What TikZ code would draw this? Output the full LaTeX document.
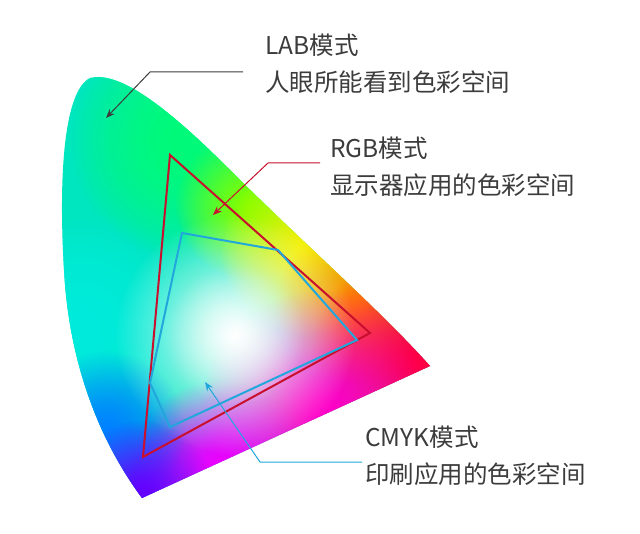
\documentclass[tikz,border=0pt]{standalone}
\usepackage{fontspec}
\setmainfont{Noto Sans CJK SC}
\usetikzlibrary{fadings,arrows.meta}
\tikzfading[name=blobfade, inner color=transparent!0, outer color=transparent!100]
\definecolor{rgbred}{RGB}{200,16,46}
\definecolor{cmykblue}{RGB}{34,167,220}
\definecolor{txt}{RGB}{60,60,60}
\tikzset{
  lbl/.style={anchor=west, text=txt, font=\fontsize{24.5}{28}\selectfont, inner sep=0},
  lead/.style={line width=1pt, -{Stealth[length=9pt,width=7pt]}},
  blob/.style={path fading=blobfade}
}
\begin{document}
\begin{tikzpicture}[x=1pt,y=-1pt]
\useasboundingbox (0,0) rectangle (640,534);
\begin{scope}
\clip (142,498) .. controls (110,455) and (70,380) .. (64,270)
  .. controls (58,170) and (65,90) .. (90,78)
  .. controls (120,70) and (170,110) .. (230,170)
  .. controls (300,240) and (380,310) .. (430,366) -- cycle;
\fill[color={rgb,255:red,0;green,230;blue,190}] (0,0) rectangle (640,534);
\foreach \k in {1,2}{
\fill[blob,color={rgb,255:red,0;green,235;blue,220}] (80,330) circle (120);
\fill[blob,color={rgb,255:red,0;green,250;blue,120}] (190,140) circle (120);
\fill[blob,color={rgb,255:red,130;green,255;blue,0}] (250,205) circle (75);
\fill[blob,color={rgb,255:red,245;green,240;blue,0}] (305,250) circle (85);
\fill[blob,color={rgb,255:red,255;green,140;blue,0}] (355,305) circle (80);
\fill[blob,color={rgb,255:red,255;green,0;blue,60}] (420,360) circle (110);
\fill[blob,color={rgb,255:red,255;green,0;blue,200}] (320,410) circle (120);
\fill[blob,color={rgb,255:red,235;green,0;blue,255}] (220,470) circle (90);
\fill[blob,color={rgb,255:red,0;green,130;blue,255}] (105,430) circle (80);
\fill[blob,color={rgb,255:red,100;green,0;blue,255}] (140,495) circle (75);
}
\fill[blob,white] (235,335) circle (120);
\fill[blob,white,opacity=0.6] (235,335) circle (70);
\end{scope}
\draw[rgbred, line width=2pt, line join=miter] (170,155) -- (370,333) -- (143,457) -- cycle;
\draw[cmykblue, line width=2pt] (182,233) -- (278,250) -- (357,340) -- (170,427) -- (150,383) -- cycle;

\node[lbl] (labt) at (265,45) {LAB模式};
\node[lbl] (labd) at (265,82) {人眼所能看到色彩空间};
\node[lbl] (rgbt) at (330,148) {RGB模式};
\node[lbl] (rgbd) at (330,185) {显示器应用的色彩空间};
\node[lbl] (cmyt) at (365,437) {CMYK模式};
\node[lbl] (cmyd) at (365,474) {印刷应用的色彩空间};

\coordinate (la) at (243,72); \coordinate (lb) at (150,72); \coordinate (lc) at (106,118);
\coordinate (ra) at (320,163); \coordinate (rb) at (268,163); \coordinate (rc) at (213,215);
\coordinate (ca) at (362,462); \coordinate (cb) at (260,462); \coordinate (cc) at (205,382);
\draw[lead, txt] (la) -- (lb) -- (lc);
\draw[lead, rgbred] (ra) -- (rb) -- (rc);
\draw[lead, cmykblue] (ca) -- (cb) -- (cc);
\end{tikzpicture}
\end{document}
